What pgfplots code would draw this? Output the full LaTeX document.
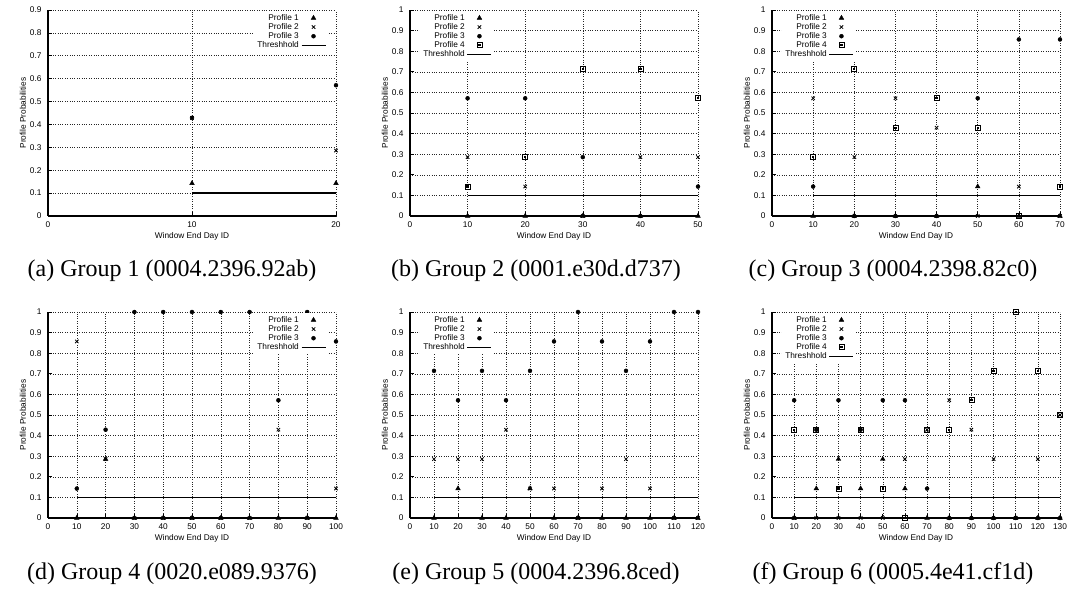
\documentclass[border=0pt]{standalone}
\usepackage{fontspec}
\setmainfont{Liberation Sans}
\newfontfamily\capfont{Liberation Serif}
\usepackage{pgfplots}
\usepackage{pgfplotstable}
\pgfplotsset{compat=1.18}

\pgfdeclareplotmark{sqdot}{%
  \pgfpathrectangle{\pgfpoint{-\pgfplotmarksize}{-\pgfplotmarksize}}{\pgfpoint{2\pgfplotmarksize}{2\pgfplotmarksize}}%
  \pgfusepathqstroke
  \pgfpathrectangle{\pgfpoint{-0.45\pgfplotmarksize}{-0.45\pgfplotmarksize}}{\pgfpoint{0.9\pgfplotmarksize}{0.9\pgfplotmarksize}}%
  \pgfusepathqfill
}

\pgfplotstableread{
x p1 p2 p3
10 0.1429 0.4286 0.4286
20 0.1429 0.2857 0.5714
}\groupA

\pgfplotstableread{
x p1 p2 p3 p4
10 0 0.2857 0.5714 0.1429
20 0 0.1429 0.5714 0.2857
30 0 0 0.2857 0.7143
40 0 0.2857 0 0.7143
50 0 0.2857 0.1429 0.5714
}\groupB

\pgfplotstableread{
x p1 p2 p3 p4
10 0 0.5714 0.1429 0.2857
20 0 0.2857 0 0.7143
30 0 0.5714 0 0.4286
40 0 0.4286 0 0.5714
50 0.1429 0 0.5714 0.4286
60 0 0.1429 0.8571 0
70 0 0 0.8571 0.1429
}\groupC

\pgfplotstableread{
x p1 p2 p3
10 0 0.8571 0.1429
20 0.2857 0.2857 0.4286
30 0 0 1
40 0 0 1
50 0 0 1
60 0 0 1
70 0 0 1
80 0 0.4286 0.5714
90 0 0 1
100 0 0.1429 0.8571
}\groupD

\pgfplotstableread{
x p1 p2 p3
10 0 0.2857 0.7143
20 0.1429 0.2857 0.5714
30 0 0.2857 0.7143
40 0 0.4286 0.5714
50 0.1429 0.1429 0.7143
60 0 0.1429 0.8571
70 0 0 1
80 0 0.1429 0.8571
90 0 0.2857 0.7143
100 0 0.1429 0.8571
110 0 0 1
120 0 0 1
}\groupE

\pgfplotstableread{
x p1 p2 p3 p4
10 0 0 0.5714 0.4286
20 0.1429 0 0.4286 0.4286
30 0.2857 0 0.5714 0.1429
40 0.1429 0 0.4286 0.4286
50 0.2857 0 0.5714 0.1429
60 0.1429 0.2857 0.5714 0
70 0 0.4286 0.1429 0.4286
80 0 0.5714 0 0.4286
90 0 0.4286 0 0.5714
100 0 0.2857 0 0.7143
110 0 0 0 1
120 0 0.2857 0 0.7143
130 0 0.5 0 0.5
}\groupF

\pgfplotsset{
  legmark/.style={legend image code/.code={%
    \draw[mark repeat=2,mark phase=2,##1] plot coordinates {(0pt,0pt) (12pt,0pt) (24pt,0pt)};}},
  legline/.style={legend image code/.code={%
    \draw[##1] (0pt,0pt) -- (24pt,0pt);}},
  pA/.style={only marks, mark=triangle*, mark size=2.7pt, black, legmark},
  pB/.style={only marks, mark=x, mark size=2.4pt, black, line width=0.85pt, legmark},
  pC/.style={only marks, mark=*, mark size=2.0pt, black, legmark},
  pD/.style={only marks, mark=sqdot, mark size=2.5pt, black, line width=0.75pt, legmark},
  thr/.style={black, line width=1.3pt, no marks, legline},
  grp/.style={
    scale only axis, width=288pt, height=206pt,
    axis x line=bottom, axis y line=left,
    axis line style={-, line width=1.5pt},
    enlargelimits=false, clip=false,
    grid=major, grid style={dotted, black!85, line width=0.55pt},
    tick align=inside, major tick length=4pt, tick style={black, line width=0.6pt},
    ymin=0,
    tick label style={font=\fontsize{8.3}{9.6}\selectfont},
    /pgf/number format/assume math mode=true,
    xticklabel style={yshift=-2pt},
    yticklabel style={xshift=-3pt},
    xlabel={Window End Day ID}, ylabel={Profile Probabilities},
    label style={font=\fontsize{8.3}{9.6}\selectfont},
    xlabel style={at={(axis description cs:0.5,-0.097)}, anchor=center},
    ylabel style={at={(axis description cs:-0.087,0.5)}, anchor=center},
    legend cell align=right, legend plot pos=right,
    legend style={draw=none, fill=white, font=\fontsize{8.3}{9.6}\selectfont,
      inner sep=1pt, row sep=-2.4pt},
  },
  legTR/.style={legend style={at={(0.97,0.995)}, anchor=north east}},
  legTL/.style={legend style={at={(0.035,0.995)}, anchor=north west}},
  y09/.style={ymax=0.9, ytick={0,0.1,0.2,0.3,0.4,0.5,0.6,0.7,0.8,0.9}},
  y10/.style={ymax=1, ytick={0,0.1,0.2,0.3,0.4,0.5,0.6,0.7,0.8,0.9,1}},
}

\begin{document}
\begin{tikzpicture}
\path[use as bounding box] (0pt,0pt) rectangle (1072pt,591pt);

% (a)
\begin{axis}[grp, legTR, y09, at={(48pt,375pt)}, anchor=south west,
  xmin=0, xmax=20, xtick={0,10,20}]
\addplot[pA] table[x=x,y=p1] {\groupA};
\addplot[pB] table[x=x,y=p2] {\groupA};
\addplot[pC] table[x=x,y=p3] {\groupA};
\addplot[thr] coordinates {(10,0.1) (20,0.1)};
\legend{Profile 1,Profile 2,Profile 3,Threshhold}
\end{axis}

% (b)
\begin{axis}[grp, legTL, y10, at={(410pt,375pt)}, anchor=south west,
  xmin=0, xmax=50, xtick={0,10,...,50}]
\addplot[pA] table[x=x,y=p1] {\groupB};
\addplot[pB] table[x=x,y=p2] {\groupB};
\addplot[pC] table[x=x,y=p3] {\groupB};
\addplot[pD] table[x=x,y=p4] {\groupB};
\addplot[thr] coordinates {(10,0.1) (50,0.1)};
\legend{Profile 1,Profile 2,Profile 3,Profile 4,Threshhold}
\end{axis}

% (c)
\begin{axis}[grp, legTL, y10, at={(772pt,375pt)}, anchor=south west,
  xmin=0, xmax=70, xtick={0,10,...,70}]
\addplot[pA] table[x=x,y=p1] {\groupC};
\addplot[pB] table[x=x,y=p2] {\groupC};
\addplot[pC] table[x=x,y=p3] {\groupC};
\addplot[pD] table[x=x,y=p4] {\groupC};
\addplot[thr] coordinates {(10,0.1) (70,0.1)};
\legend{Profile 1,Profile 2,Profile 3,Profile 4,Threshhold}
\end{axis}

% (d)
\begin{axis}[grp, legTR, y10, at={(48pt,73pt)}, anchor=south west,
  xmin=0, xmax=100, xtick={0,10,...,100}]
\addplot[pA] table[x=x,y=p1] {\groupD};
\addplot[pB] table[x=x,y=p2] {\groupD};
\addplot[pC] table[x=x,y=p3] {\groupD};
\addplot[thr] coordinates {(10,0.1) (100,0.1)};
\legend{Profile 1,Profile 2,Profile 3,Threshhold}
\end{axis}

% (e)
\begin{axis}[grp, legTL, y10, at={(410pt,73pt)}, anchor=south west,
  xmin=0, xmax=120, xtick={0,10,...,120}]
\addplot[pA] table[x=x,y=p1] {\groupE};
\addplot[pB] table[x=x,y=p2] {\groupE};
\addplot[pC] table[x=x,y=p3] {\groupE};
\addplot[thr] coordinates {(10,0.1) (120,0.1)};
\legend{Profile 1,Profile 2,Profile 3,Threshhold}
\end{axis}

% (f)
\begin{axis}[grp, legTL, y10, at={(772pt,73pt)}, anchor=south west,
  xmin=0, xmax=130, xtick={0,10,...,130}]
\addplot[pA] table[x=x,y=p1] {\groupF};
\addplot[pB] table[x=x,y=p2] {\groupF};
\addplot[pC] table[x=x,y=p3] {\groupF};
\addplot[pD] table[x=x,y=p4] {\groupF};
\addplot[thr] coordinates {(10,0.1) (130,0.1)};
\legend{Profile 1,Profile 2,Profile 3,Profile 4,Threshhold}
\end{axis}

\begin{scope}[every node/.style={font=\capfont\fontsize{24}{28}\selectfont, inner sep=0pt}]
\node at (172pt,320pt) {(a) Group 1 (0004.2396.92ab)};
\node at (536pt,320pt) {(b) Group 2 (0001.e30d.d737)};
\node at (893pt,320pt) {(c) Group 3 (0004.2398.82c0)};
\node at (172pt,17pt) {(d) Group 4 (0020.e089.9376)};
\node at (536pt,17pt) {(e) Group 5 (0004.2396.8ced)};
\node at (893pt,17pt) {(f) Group 6 (0005.4e41.cf1d)};
\end{scope}
\end{tikzpicture}
\end{document}
